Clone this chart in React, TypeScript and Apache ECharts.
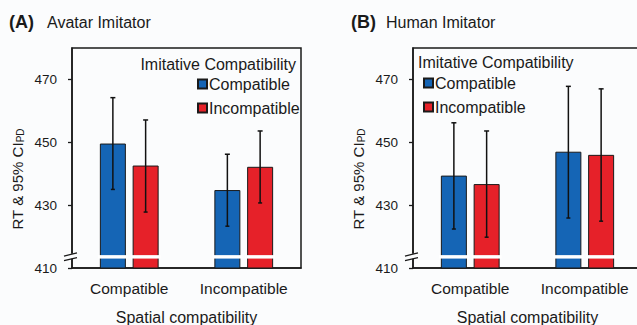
import React, { useEffect, useRef } from "react";
import * as echarts from "echarts";

const categories = ["Compatible", "Incompatible"];
const seriesNames = ["Compatible", "Incompatible"];

const avatarCompatibleMean = [449.6, 434.8];
const avatarCompatibleLow = [435.0, 423.3];
const avatarCompatibleHigh = [464.2, 446.2];
const avatarIncompatibleMean = [442.6, 442.2];
const avatarIncompatibleLow = [427.8, 430.7];
const avatarIncompatibleHigh = [457.1, 453.6];

const humanCompatibleMean = [439.4, 447.0];
const humanCompatibleLow = [422.4, 425.9];
const humanCompatibleHigh = [456.2, 467.8];
const humanIncompatibleMean = [436.7, 446.0];
const humanIncompatibleLow = [419.8, 424.9];
const humanIncompatibleHigh = [453.6, 467.0];

const yTicks = [410, 430, 450, 470];
const Y_MIN = 410;
const Y_MAX = 480;
const BREAK_LO = 413.0;
const BREAK_HI = 414.1;
const BREAK_MID = 413.7;

const BLUE = "#1565b5";
const RED = "#e62129";
const INK = "#1a1a1a";
const BG = "#fbfcfd";
const FONT = "Arial, 'Liberation Sans', Helvetica, sans-serif";
const BAR_W = 26;
const GAP = 0.26;
const OFF = (BAR_W + BAR_W * GAP) / 2;

function errData(mean: number[], low: number[], high: number[], side: number) {
  return mean.map((m, i) => [i, m, low[i], high[i], side]);
}

function errRender(params: any, api: any) {
  const cat = api.value(0);
  const low = api.value(2);
  const high = api.value(3);
  const side = api.value(4);
  const off = side === 0 ? -OFF : OFF;
  const top = api.coord([cat, high]);
  const bot = api.coord([cat, low]);
  const x = top[0] + off;
  const b1 = api.coord([cat, BREAK_HI])[1];
  const b2 = api.coord([cat, BREAK_LO])[1];
  const st = { stroke: "#111", lineWidth: 1.5 };
  return {
    type: "group",
    children: [
      { type: "rect", shape: { x: x - BAR_W / 2 - 2, y: b1, width: BAR_W + 4, height: b2 - b1 }, style: { fill: "#ffffff" } },
      { type: "line", shape: { x1: x, y1: top[1], x2: x, y2: bot[1] }, style: st },
      { type: "line", shape: { x1: x - 2.5, y1: top[1], x2: x + 2.5, y2: top[1] }, style: st },
      { type: "line", shape: { x1: x - 2, y1: bot[1], x2: x + 2, y2: bot[1] }, style: st },
    ],
  };
}

function breakRender(params: any, api: any) {
  const x = params.coordSys.x;
  const yc = api.coord([0, BREAK_MID])[1];
  const st = { stroke: INK, lineWidth: 1.3 };
  return {
    type: "group",
    children: [
      { type: "rect", shape: { x: x - 2, y: yc - 2.6, width: 4, height: 5 }, style: { fill: BG } },
      { type: "line", shape: { x1: x - 8, y1: yc - 0.3, x2: x + 5, y2: yc - 3.6 }, style: st },
      { type: "line", shape: { x1: x - 8, y1: yc + 4.3, x2: x + 5, y2: yc + 1.2 }, style: st },
    ],
  };
}

function makeAxes(idx: number) {
  const x = {
    type: "category",
    gridIndex: idx,
    data: categories,
    axisLine: { show: true, lineStyle: { color: INK, width: 1.5 } },
    axisTick: { show: false },
    axisLabel: { fontSize: 15.5, color: INK, margin: 12, fontFamily: FONT },
    name: "Spatial compatibility",
    nameLocation: "middle",
    nameGap: 41,
    nameTextStyle: { fontSize: 16, color: INK, fontFamily: FONT },
  };
  const y = {
    type: "value",
    gridIndex: idx,
    min: Y_MIN,
    max: Y_MAX,
    splitLine: { show: false },
    axisLine: { show: true, lineStyle: { color: INK, width: 1.5 } },
    axisTick: { show: true, length: 4, customValues: yTicks, lineStyle: { color: INK, width: 1.3 } },
    axisLabel: { fontSize: 13.5, color: INK, margin: 15, customValues: yTicks, fontFamily: FONT },
    name: "{a|RT & 95% CI}{s|PD}",
    nameLocation: "middle",
    nameGap: 47,
    nameRotate: 90,
    nameTextStyle: {
      color: INK,
      fontFamily: FONT,
      padding: [0, 42, 0, 0],
      rich: {
        a: { fontSize: 15, color: INK, fontFamily: FONT },
        s: { fontSize: 10, color: INK, fontFamily: FONT, padding: [6, 0, 0, 0] },
      },
    },
  };
  return { x, y };
}

export default function App() {
  const ref = useRef<HTMLDivElement>(null);
  useEffect(() => {
    if (!ref.current) return;
    const chart = echarts.init(ref.current, null, { renderer: "svg" });
    const a0 = makeAxes(0);
    const a1 = makeAxes(1);
    const barStyle = (c: string) => ({ color: c, borderColor: INK, borderWidth: 1 });
    const legendText = { fontSize: 16, lineHeight: 16, color: INK, fontFamily: FONT, padding: [0, 0, 0, -3] };
    const option: any = {
      animation: false,
      backgroundColor: BG,
      textStyle: { fontFamily: FONT },
      grid: [
        { left: 72, top: 48, width: 229, height: 220, show: true, borderColor: INK, borderWidth: 1.5, backgroundColor: "transparent", outerBoundsMode: "none", containLabel: false },
        { left: 413, top: 48, width: 229, height: 220, show: true, borderColor: INK, borderWidth: 1.5, backgroundColor: "transparent", outerBoundsMode: "none", containLabel: false },
      ],
      xAxis: [a0.x, a1.x],
      yAxis: [a0.y, a1.y],
      legend: [
        {
          left: 197, top: 76, orient: "vertical", itemWidth: 9, itemHeight: 9, itemGap: 8,
          icon: "rect", data: seriesNames, padding: 0, textStyle: legendText,
        },
        {
          left: 423, top: 75, orient: "vertical", itemWidth: 9, itemHeight: 9, itemGap: 8,
          icon: "rect", data: seriesNames, padding: 0, textStyle: legendText,
        },
      ],
      graphic: [
        { type: "text", left: 9, top: 13, style: { text: "(A)", fontSize: 18, fontWeight: "bold", fill: INK, fontFamily: FONT } },
        { type: "text", left: 47, top: 14, style: { text: "Avatar Imitator", fontSize: 16, fill: INK, fontFamily: FONT } },
        { type: "text", left: 351, top: 13, style: { text: "(B)", fontSize: 18, fontWeight: "bold", fill: INK, fontFamily: FONT } },
        { type: "text", left: 386, top: 14, style: { text: "Human Imitator", fontSize: 16, fill: INK, fontFamily: FONT } },
        { type: "text", right: 341, top: 56, style: { text: "Imitative Compatibility", fontSize: 16, fill: INK, fontFamily: FONT } },
        { type: "text", left: 418, top: 54, style: { text: "Imitative Compatibility", fontSize: 16, fill: INK, fontFamily: FONT } },
      ],
      series: [
        { type: "bar", name: seriesNames[0], xAxisIndex: 0, yAxisIndex: 0, data: avatarCompatibleMean, barWidth: BAR_W, barGap: "26%", itemStyle: barStyle(BLUE) },
        { type: "bar", name: seriesNames[1], xAxisIndex: 0, yAxisIndex: 0, data: avatarIncompatibleMean, barWidth: BAR_W, barGap: "26%", itemStyle: barStyle(RED) },
        { type: "bar", name: seriesNames[0], xAxisIndex: 1, yAxisIndex: 1, data: humanCompatibleMean, barWidth: BAR_W, barGap: "26%", itemStyle: barStyle(BLUE) },
        { type: "bar", name: seriesNames[1], xAxisIndex: 1, yAxisIndex: 1, data: humanIncompatibleMean, barWidth: BAR_W, barGap: "26%", itemStyle: barStyle(RED) },
        {
          type: "custom", xAxisIndex: 0, yAxisIndex: 0, z: 5, renderItem: errRender,
          data: [
            ...errData(avatarCompatibleMean, avatarCompatibleLow, avatarCompatibleHigh, 0),
            ...errData(avatarIncompatibleMean, avatarIncompatibleLow, avatarIncompatibleHigh, 1),
          ],
        },
        {
          type: "custom", xAxisIndex: 1, yAxisIndex: 1, z: 5, renderItem: errRender,
          data: [
            ...errData(humanCompatibleMean, humanCompatibleLow, humanCompatibleHigh, 0),
            ...errData(humanIncompatibleMean, humanIncompatibleLow, humanIncompatibleHigh, 1),
          ],
        },
        { type: "custom", xAxisIndex: 0, yAxisIndex: 0, z: 6, clip: false, renderItem: breakRender, data: [[0, BREAK_MID]] },
        { type: "custom", xAxisIndex: 1, yAxisIndex: 1, z: 6, clip: false, renderItem: breakRender, data: [[0, BREAK_MID]] },
      ],
    };
    chart.setOption(option);
    return () => chart.dispose();
  }, []);
  return <div ref={ref} style={{ position: "fixed", left: 0, top: 0, width: 637, height: 325 }} />;
}
